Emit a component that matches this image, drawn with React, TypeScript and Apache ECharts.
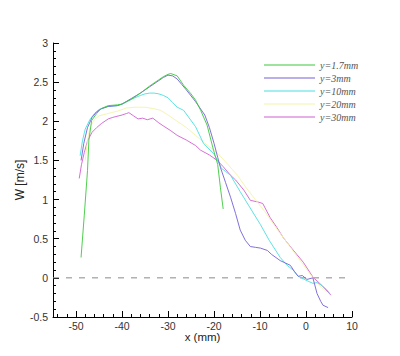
import React, { useEffect, useRef } from "react";
import * as echarts from "echarts";

const seriesNames = ["y=1.7mm", "y=3mm", "y=10mm", "y=20mm", "y=30mm"];
const seriesColors = ["#3cc83c", "#7560d6", "#48e0e0", "#f3f3a8", "#d060d0"];

const x17 = [-48.9, -48.2, -47.5, -47.2, -46.6, -45.5, -44.6, -43, -41, -40, -38, -36, -34, -32, -31, -30, -29.4, -28, -26.6, -25, -24, -22.9, -21.5, -20.1, -19.2, -18.6, -18];
const w17 = [0.26, 0.8, 1.37, 1.76, 2.01, 2.1, 2.16, 2.2, 2.21, 2.22, 2.28, 2.36, 2.45, 2.53, 2.57, 2.6, 2.61, 2.58, 2.46, 2.35, 2.27, 2.14, 1.95, 1.63, 1.45, 1.15, 0.88];

const x3 = [-48.9, -48.3, -47.5, -46.5, -45.5, -44.5, -43, -41, -40, -38, -36, -34, -32, -31, -30, -29, -28, -27, -26, -24, -22, -21, -20, -19.2, -18.6, -17.5, -16.4, -15.3, -14.3, -13.2, -12.1, -11, -9.9, -8.4, -7.5, -5.6, -4.5, -3.4, -2.5, -1.7, -0.8, 0.2, 1.5, 2.4, 3.2, 3.7, 4.8];
const w3 = [1.5, 1.72, 1.92, 2.05, 2.12, 2.16, 2.19, 2.2, 2.22, 2.29, 2.36, 2.44, 2.52, 2.56, 2.59, 2.58, 2.54, 2.47, 2.4, 2.25, 2.08, 1.92, 1.72, 1.54, 1.41, 1.22, 1.03, 0.82, 0.61, 0.48, 0.4, 0.39, 0.38, 0.35, 0.3, 0.22, 0.19, 0.16, 0.08, 0.02, 0.03, -0.02, 0.0, -0.2, -0.3, -0.35, -0.38];

const x10 = [-49.1, -48.6, -48, -47, -46, -45, -43, -41, -40, -38, -36, -35, -34, -33, -32, -31, -30, -29, -28, -26.6, -24, -22.3, -20, -19.2, -18.4, -17.5, -16.4, -15.3, -14.3, -12, -9.9, -8, -5.6, -4.1, -2.8, -1.7, -1, 0, 1.5, 2.4, 3.5, 4.5, 5.2];
const w10 = [1.56, 1.75, 1.9, 2.02, 2.1, 2.15, 2.19, 2.2, 2.22, 2.28, 2.33, 2.35, 2.36, 2.36, 2.35, 2.33, 2.3, 2.24, 2.18, 2.14, 1.93, 1.72, 1.58, 1.5, 1.4, 1.36, 1.31, 1.2, 1.1, 0.88, 0.68, 0.48, 0.26, 0.16, 0.1, 0.02, 0.0, -0.03, -0.07, -0.06, -0.1, -0.15, -0.2];

const x20 = [-48.0, -47.5, -47, -46, -45, -43, -41, -39, -37, -35, -33, -31.6, -30, -28, -26, -24, -22, -20, -19.2, -17, -14.9, -13, -11, -9, -7, -5, -3, -1, 1, 3, 4.5];
const w20 = [1.5, 1.75, 1.92, 2.02, 2.07, 2.1, 2.13, 2.17, 2.18, 2.18, 2.16, 2.14, 2.08, 2.0, 1.92, 1.82, 1.72, 1.63, 1.59, 1.45, 1.31, 1.15, 1.0, 0.85, 0.68, 0.52, 0.36, 0.2, 0.04, -0.1, -0.18];

const x30 = [-49.3, -48.8, -48.2, -47.5, -46.5, -45.5, -44.5, -43, -42, -40, -39, -38.5, -37.5, -36.5, -35.5, -34.5, -33.3, -32, -31, -29.4, -28, -26, -24, -22.9, -21, -19.3, -18, -16.4, -15.3, -13.5, -12.1, -10.5, -9.4, -7.8, -6.3, -4.9, -3, -0.6, 1.5, 3.5, 5.4];
const w30 = [1.27, 1.45, 1.6, 1.75, 1.86, 1.92, 1.97, 2.03, 2.05, 2.08, 2.1, 2.11, 2.07, 2.03, 2.04, 2.02, 2.04, 1.98, 1.94, 1.88, 1.82, 1.76, 1.69, 1.63, 1.57, 1.5, 1.42, 1.31, 1.25, 1.12, 0.99, 0.97, 0.95, 0.77, 0.64, 0.51, 0.37, 0.2, 0.01, -0.1, -0.22];

const xMajorTicks = [-50, -40, -30, -20, -10, 0, 10];
const xMinorTicks = [-54, -52, -48, -46, -44, -42, -38, -36, -34, -32, -28, -26, -24, -22, -18, -16, -14, -12, -8, -6, -4, -2, 2, 4, 6, 8];
const zeroLineX = [-55, 10];
const zeroLineY = [0, 0];

const allX = [x17, x3, x10, x20, x30];
const allW = [w17, w3, w10, w20, w30];

const zip = (xs: number[], ys: number[]) => xs.map((x, i) => [x, ys[i]]);

export default function App() {
  const ref = useRef<HTMLDivElement>(null);
  useEffect(() => {
    if (!ref.current) return;
    const chart = echarts.init(ref.current, null, { renderer: "svg" });
    const axisFont = { fontFamily: "Liberation Sans, Arial, sans-serif", fontSize: 10.5, color: "#333" };
    const lineSeries: any[] = seriesNames.map((name, i) => ({
      name,
      type: "line",
      xAxisIndex: 0,
      yAxisIndex: 0,
      data: zip(allX[i], allW[i]),
      symbol: "none",
      showSymbol: false,
      lineStyle: { color: seriesColors[i], width: 0.9 },
      itemStyle: { color: seriesColors[i] },
      z: 10 - i,
    }));
    lineSeries.push({
      name: "zero",
      type: "line",
      xAxisIndex: 0,
      yAxisIndex: 0,
      data: zip(zeroLineX, zeroLineY),
      symbol: "none",
      lineStyle: { color: "#8a8a8a", width: 1, type: [6, 7] },
      z: 1,
    });
    chart.setOption({
      animation: false,
      backgroundColor: "#ffffff",
      grid: { left: 53, right: 48, top: 43, bottom: 39 },
      legend: {
        data: seriesNames,
        orient: "vertical",
        left: 259,
        top: 55,
        icon: "rect",
        itemWidth: 51,
        itemHeight: 1.2,
        itemGap: 3,
        textStyle: {
          fontFamily: "Liberation Serif, Times New Roman, serif",
          fontStyle: "italic",
          fontSize: 10,
          color: "#555",
          lineHeight: 10,
          height: 10,
        },
      },
      xAxis: [
        {
          type: "value",
          min: -55,
          max: 10,
          position: "bottom",
          axisLine: { show: true, onZero: false, lineStyle: { color: "#000", width: 1 } },
          axisTick: { show: true, inside: true, length: 6, customValues: xMajorTicks, lineStyle: { color: "#000" } },
          axisLabel: { ...axisFont, margin: 3, customValues: xMajorTicks },
          splitLine: { show: false },
          name: "x (mm)",
          nameLocation: "middle",
          nameGap: 14,
          nameMoveOverlap: false,
          nameTextStyle: { fontFamily: "Liberation Sans, Arial, sans-serif", fontSize: 11.5, color: "#222", verticalAlign: "top" },
        },
        {
          type: "value",
          min: -55,
          max: 10,
          position: "bottom",
          axisLine: { show: false, onZero: false },
          axisTick: { show: true, inside: true, length: 3, customValues: xMinorTicks, lineStyle: { color: "#000" } },
          axisLabel: { show: false },
          splitLine: { show: false },
        },
      ],
      yAxis: {
        type: "value",
        min: -0.5,
        max: 3,
        interval: 0.5,
        axisLine: { show: true, onZero: false, lineStyle: { color: "#000", width: 1 } },
        axisTick: { show: true, inside: true, length: 6, lineStyle: { color: "#000" } },
        minorTick: { show: true, splitNumber: 5, length: 3, lineStyle: { color: "#000" } },
        axisLabel: { ...axisFont, margin: 5 },
        splitLine: { show: false },
        name: "W [m/s]",
        nameLocation: "middle",
        nameGap: 33,
        nameRotate: 90,
        nameMoveOverlap: false,
        nameTextStyle: { fontFamily: "Liberation Sans, Arial, sans-serif", fontSize: 12, color: "#222", verticalAlign: "middle" },
      },
      series: lineSeries,
    });
    return () => chart.dispose();
  }, []);
  return <div ref={ref} style={{ position: "fixed", left: 0, top: 0, width: 400, height: 356 }} />;
}
